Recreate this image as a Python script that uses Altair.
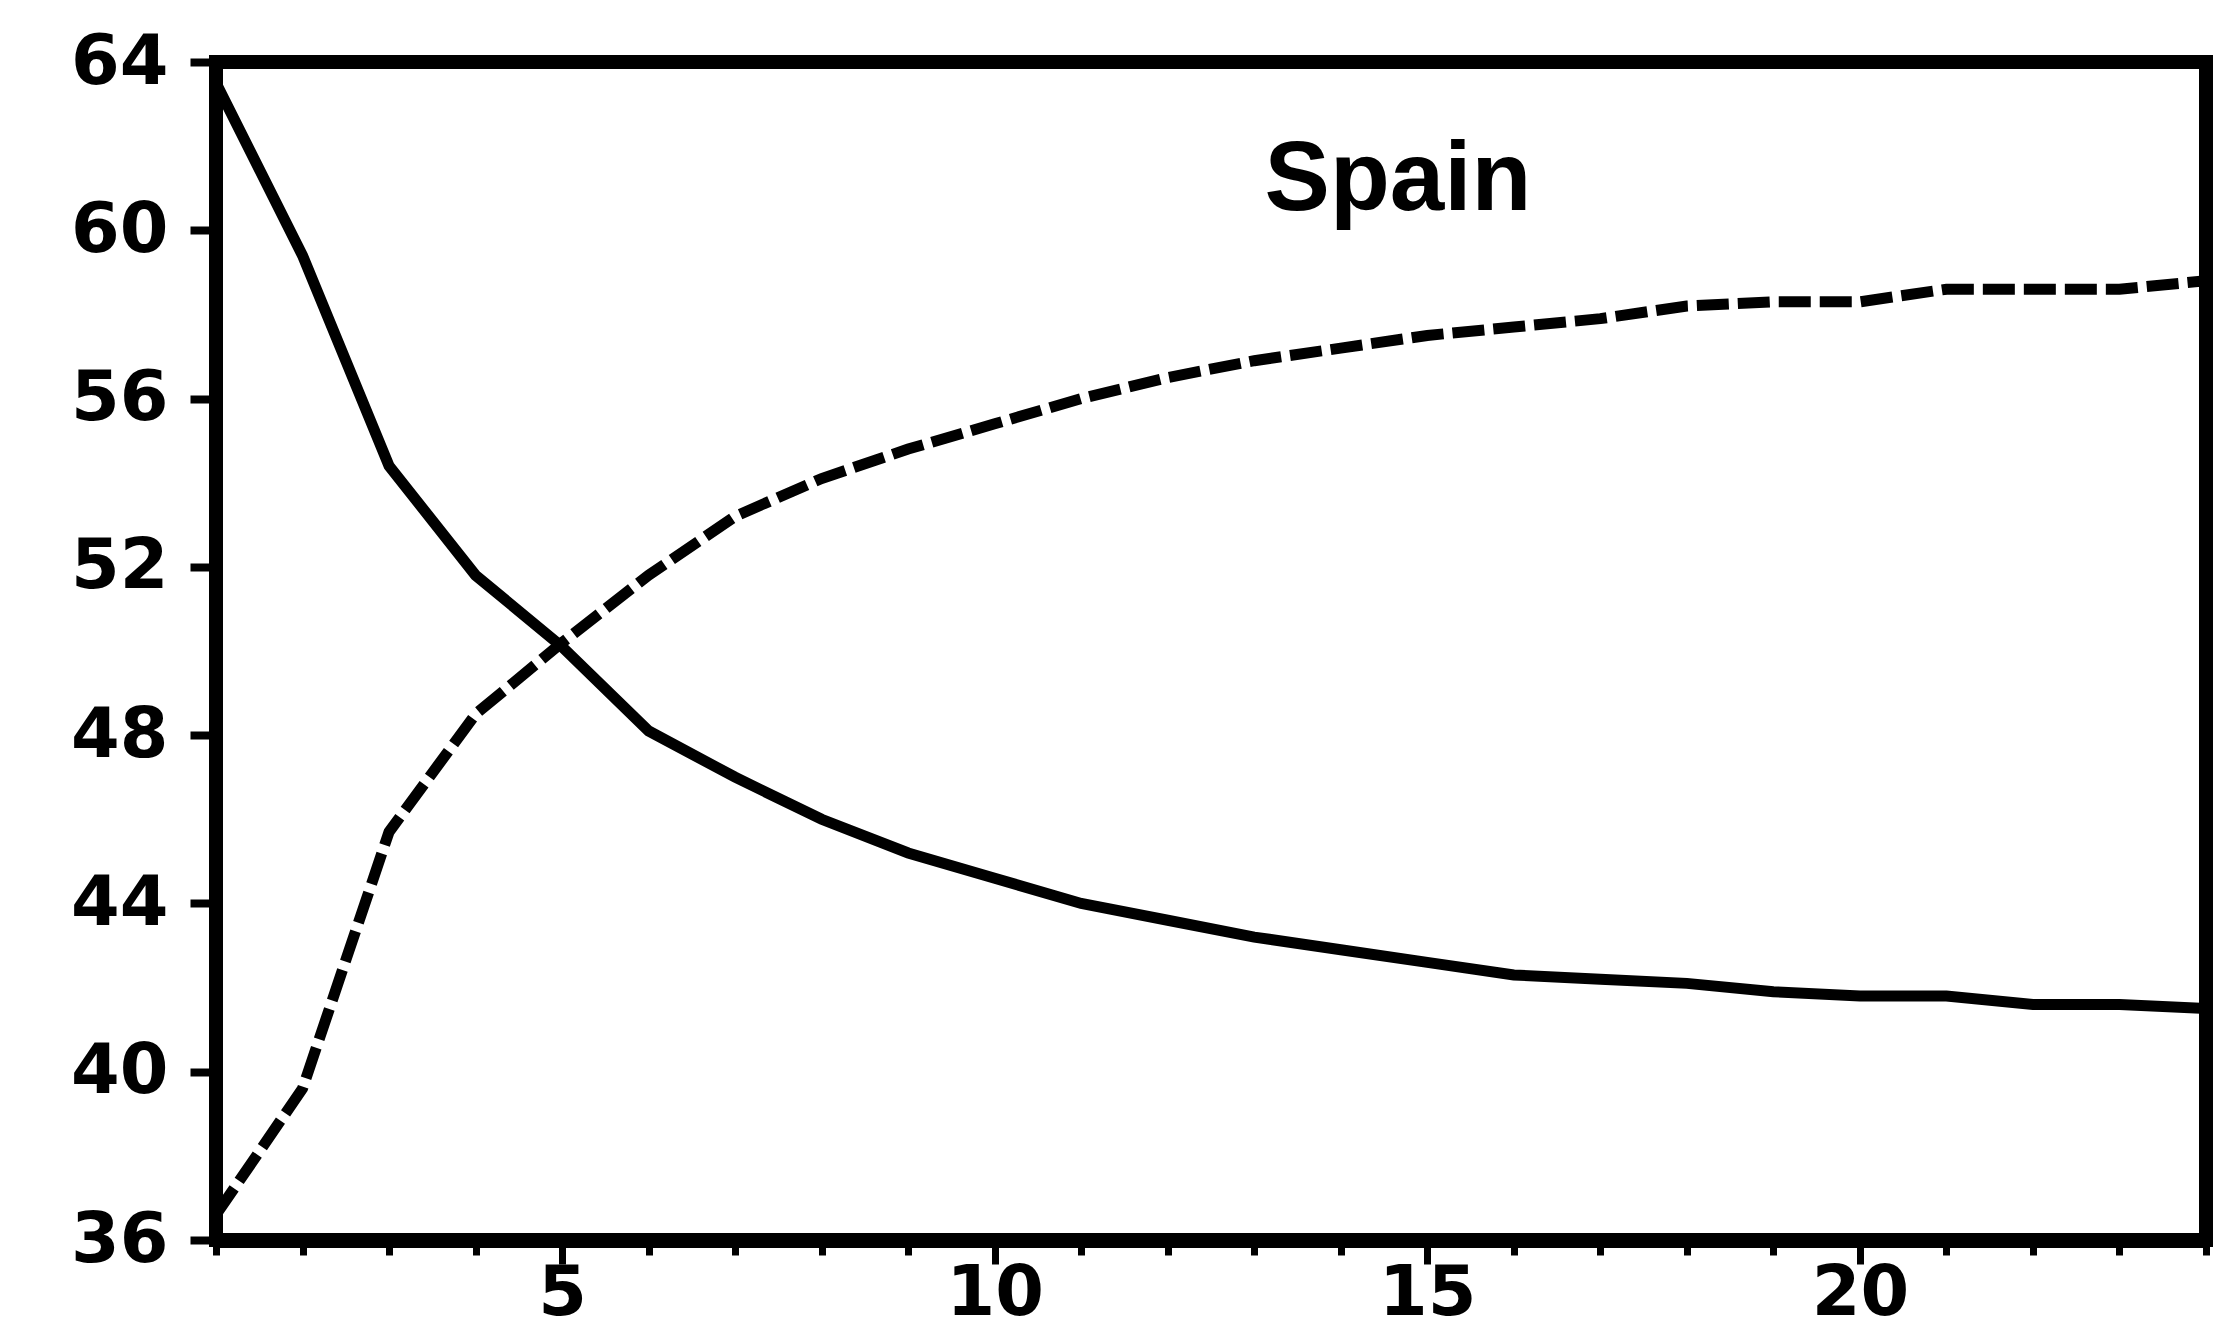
import altair as alt
import pandas as pd

# Horizon (periods) and the two response paths
periods = list(range(1, 25))
solid_series = [63.5, 59.4, 54.4, 51.8, 50.1, 48.1, 47.0, 46.0, 45.2, 44.6, 44.0, 43.6,
                43.2, 42.9, 42.6, 42.3, 42.2, 42.1, 41.9, 41.8, 41.8, 41.6, 41.6, 41.5]
dashed_series = [36.6, 39.6, 45.7, 48.5, 50.2, 51.8, 53.2, 54.1, 54.8, 55.4, 56.0, 56.5,
                 56.9, 57.2, 57.5, 57.7, 57.9, 58.2, 58.3, 58.3, 58.6, 58.6, 58.6, 58.8]
y_ticks = [36, 40, 44, 48, 52, 56, 60, 64]
panel_title = ["Spain"]

df = pd.DataFrame({"period": periods, "solid": solid_series, "dashed": dashed_series})

W, H = 1990, 1178
FONT = "DejaVu Sans"
LABEL_SIZE = 70

x_enc = alt.X(
    "period:Q",
    scale=alt.Scale(domain=[1, 24], nice=False, zero=False),
    axis=alt.Axis(
        values=periods,
        title=None,
        grid=False,
        format="d",
        labelExpr="datum.value % 5 === 0 ? datum.label : ''",
        labelFont=FONT,
        labelFontSize=LABEL_SIZE,
        labelFontWeight="bold",
        labelColor="black",
        labelBaseline="alphabetic",
        labelPadding=50,
        tickSize={"condition": {"test": "datum.value % 5 === 0", "value": 24}, "value": 15},
        tickWidth=7,
        tickColor="black",
        domainColor="black",
        domainWidth=15,
    ),
)

y_axis = alt.Axis(
    values=y_ticks,
    title=None,
    grid=False,
    labelFont=FONT,
    labelFontSize=LABEL_SIZE,
    labelFontWeight="bold",
    labelColor="black",
    labelPadding=22,
    tickSize=26,
    tickWidth=8,
    tickColor="black",
    domainColor="black",
    domainWidth=13,
)
y_scale = alt.Scale(domain=[36, 64], nice=False, zero=False)

base = alt.Chart(df)

solid_line = base.mark_line(color="black", strokeWidth=11, clip=True).encode(
    x=x_enc,
    y=alt.Y("solid:Q", scale=y_scale, axis=y_axis),
)

dashed_line = base.mark_line(
    color="black", strokeWidth=11, strokeDash=[32, 9], clip=True
).encode(
    x=alt.X("period:Q"),
    y=alt.Y("dashed:Q"),
)

label = alt.Chart(pd.DataFrame({"name": panel_title})).mark_text(
    font="Liberation Sans",
    fontSize=98,
    fontWeight="bold",
    color="black",
    align="center",
    baseline="alphabetic",
).encode(
    x=alt.value(1182),
    y=alt.value(148),
    text="name:N",
)

chart = (
    alt.layer(solid_line, dashed_line, label)
    .properties(
        width=W,
        height=H,
        autosize=alt.AutoSizeParams(type="none"),
        padding={"left": 216, "top": 62, "right": 7, "bottom": 92},
        background="white",
    )
    .configure_view(stroke="black", strokeWidth=14)
)

chart.save("out.html", embed_options={"renderer": "svg", "actions": False})
